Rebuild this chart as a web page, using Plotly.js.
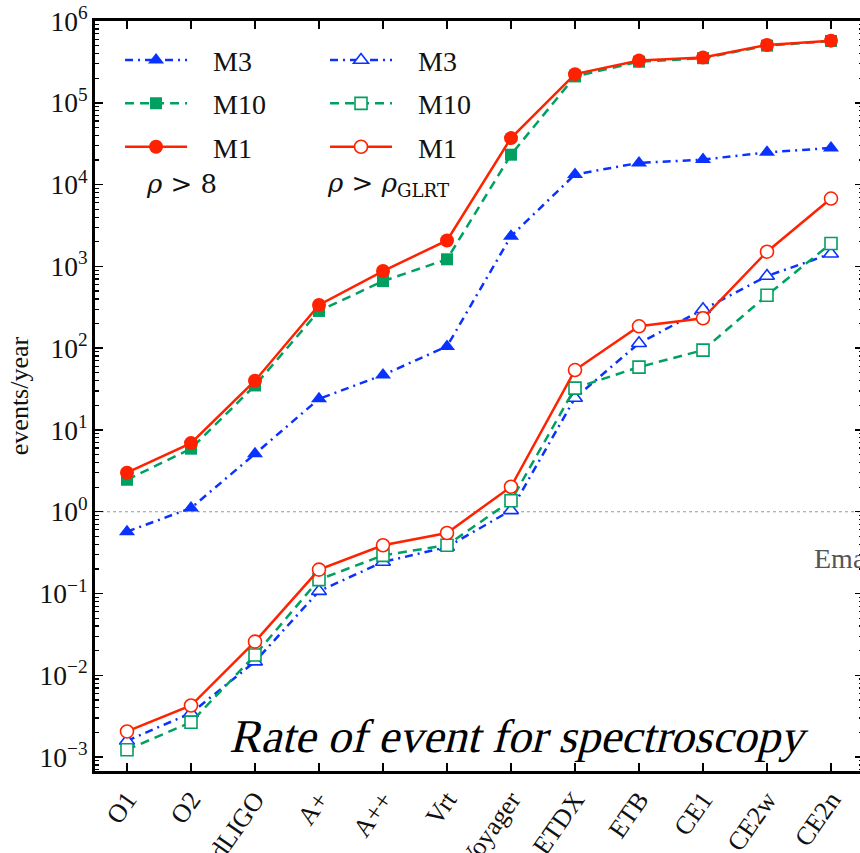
<!DOCTYPE html>
<html>
<head>
<meta charset="utf-8">
<script src="https://cdn.plot.ly/plotly-3.0.1.min.js"></script>
<style>
html,body{margin:0;padding:0;overflow:hidden;background:#fff;}
#chart{width:866px;height:853px;}
</style>
</head>
<body>
<div id="chart"></div>
<script>
// Detector configurations (x categories)
const detectors = ['O1','O2','AdLIGO','A+','A++','Vrt','Voyager','ETDX','ETB','CE1','CE2w','CE2n'];

// events/year, rho > 8
const m3_snr8  = [0.57, 1.11, 5.1, 24, 47, 105, 2340, 13300, 18400, 20200, 24800, 28000];
const m10_snr8 = [2.46, 5.9, 35, 285, 660, 1220, 23200, 210000, 318000, 351000, 500000, 570000];
const m1_snr8  = [3.0, 6.9, 40, 337, 877, 2075, 37000, 224000, 328000, 357000, 509000, 575000];

// events/year, rho > rho_GLRT
const m3_glrt  = [0.00158, 0.00345, 0.0147, 0.107, 0.243, 0.37, 1.04, 24.6, 115, 299, 762, 1428];
const m10_glrt = [0.00123, 0.00267, 0.0177, 0.148, 0.293, 0.39, 1.36, 32.5, 58.7, 94.6, 443, 1906];
const m1_glrt  = [0.00206, 0.00427, 0.0258, 0.196, 0.389, 0.55, 2.02, 54, 185, 232, 1511, 6750];

const seriesNames = ['M3','M10','M1'];

const BLUE = '#0a32ff', GREEN = '#00a060', RED = '#ff2200';
const FONT = 'Liberation Serif, Times New Roman, serif';
const IFONT = 'DejaVu Serif, serif';
const PAD = '\u00a0\u00a0\u00a0';
const TITLE = 'Rate of event for spectroscopy';

function tr(y, name, color, dash, symbol, size, open, legend, grp){
  return {
    x: detectors, y: y, name: PAD + name, type: 'scatter', mode: 'lines+markers',
    legend: legend, legendgroup: grp,
    line: {color: color, width: 2.5, dash: dash},
    marker: open
      ? {symbol: symbol, size: size, color: 'white', line: {color: color, width: 1.6}}
      : {symbol: symbol, size: size, color: color, line: {width: 0}},
    cliponaxis: false
  };
}

const data = [
  tr(m3_snr8,  seriesNames[0], BLUE,  '8px,5px,2px,5px', 'triangle-up', 14, false, 'legend', 'a1'),
  tr(m10_snr8, seriesNames[1], GREEN, '9px,6px', 'square', 12, false, 'legend', 'a2'),
  tr(m1_snr8,  seriesNames[2], RED,   'solid', 'circle', 14, false, 'legend', 'a3'),
  tr(m3_glrt,  seriesNames[0], BLUE,  '8px,5px,2px,5px', 'triangle-up', 13, true, 'legend2', 'b1'),
  tr(m10_glrt, seriesNames[1], GREEN, '9px,6px', 'square', 12, true, 'legend2', 'b2'),
  tr(m1_glrt,  seriesNames[2], RED,   'solid', 'circle', 13, true, 'legend2', 'b3')
];

const legendCommon = {
  xanchor: 'left', yanchor: 'top',
  font: {family: FONT, size: 28, color: '#111'},
  bgcolor: 'rgba(0,0,0,0)', borderwidth: 0,
  itemwidth: 62, tracegroupgap: 4, traceorder: 'grouped'
};

const layout = {
  width: 866, height: 853,
  margin: {l: 95, r: 3, t: 21, b: 82, pad: 0},
  paper_bgcolor: 'white', plot_bgcolor: 'white',
  font: {family: FONT, color: '#111'},
  showlegend: true,
  legend: Object.assign({x: 0.0326, y: 0.981}, legendCommon),
  legend2: Object.assign({x: 0.2995, y: 0.981}, legendCommon),
  xaxis: {
    type: 'category', range: [-0.5, 11.5],
    showline: true, linecolor: 'black', linewidth: 3, mirror: 'ticks',
    ticks: 'inside', ticklen: 8, tickwidth: 1.5, tickcolor: 'black',
    tickangle: -55, tickfont: {family: FONT, size: 26, color: '#111'},
    showgrid: false, zeroline: false, automargin: false
  },
  yaxis: {
    type: 'log', range: [-3.17, 6.0],
    tickmode: 'linear', tick0: 0, dtick: 1,
    exponentformat: 'power', showexponent: 'all',
    labelalias: {'1': '10<sup>0</sup>', '10': '10<sup>1</sup>'},
    showline: true, linecolor: 'black', linewidth: 3, mirror: 'ticks',
    ticks: 'inside', ticklen: 8, tickwidth: 1.5, tickcolor: 'black',
    minor: {ticks: 'inside', ticklen: 4, tickwidth: 1.2, tickcolor: 'black', dtick: 'D1', showgrid: false},
    tickfont: {family: FONT, size: 22, color: '#111'},
    showgrid: false, zeroline: false, automargin: false,
    title: {text: 'events/year', font: {family: FONT, size: 26, color: '#111'}, standoff: 4}
  },
  shapes: [{
    type: 'line', xref: 'paper', yref: 'y', x0: 0, x1: 1, y0: 1, y1: 1,
    line: {color: '#999', width: 1.2, dash: 'dot'}, layer: 'below'
  }],
  annotations: [
    {xref: 'paper', yref: 'paper', x: 0.064, y: 0.782, xanchor: 'left', yanchor: 'middle',
     text: '<i>ρ</i> > 8', showarrow: false, font: {family: IFONT, size: 26, color: '#111'}},
    {xref: 'paper', yref: 'paper', x: 0.300, y: 0.782, xanchor: 'left', yanchor: 'middle',
     text: '<i>ρ</i> > <i>ρ</i><sub>GLRT</sub>', showarrow: false, font: {family: IFONT, size: 26, color: '#111'}},
    {xref: 'paper', yref: 'paper', x: 0.1865, y: 0.047, xanchor: 'left', yanchor: 'middle',
     text: TITLE, showarrow: false, font: {family: FONT, size: 47, color: '#000'}},
    {xref: 'paper', yref: 'paper', x: 0.933, y: 0.284, xanchor: 'left', yanchor: 'middle',
     text: 'Ema', showarrow: false, font: {family: FONT, size: 28, color: '#555'}}
  ]
};

Plotly.newPlot('chart', data, layout, {displayModeBar: false, staticPlot: true}).then(function(gd){
  // serif italic faces are not installed: slant the serif title text instead
  gd.querySelectorAll('text.annotation-text').forEach(function(t){
    if (t.textContent === TITLE) {
      t.setAttribute('transform', 'skewX(-14)');
    }
  });
});
</script>
</body>
</html>
